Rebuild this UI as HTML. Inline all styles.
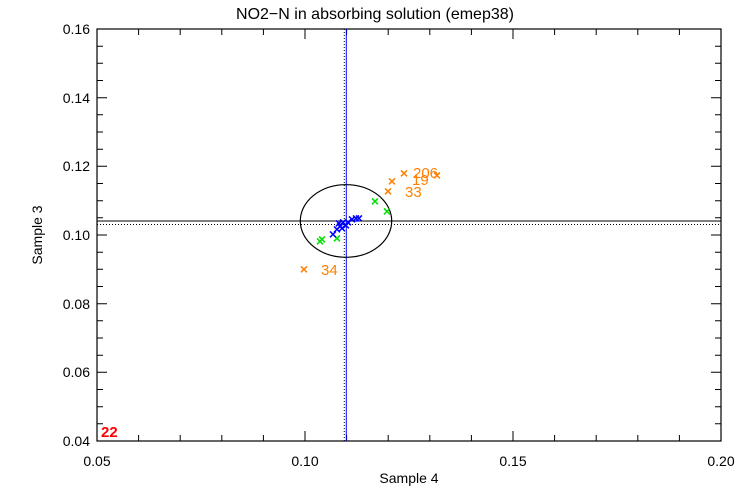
<!DOCTYPE html>
<html><head><style>body{margin:0;background:#fff}svg{display:block}</style></head><body>
<svg width="750" height="500" xmlns="http://www.w3.org/2000/svg" font-family="Liberation Sans, sans-serif">
<rect width="750" height="500" fill="#fff"/>
<text x="375" y="19" font-size="16" text-anchor="middle">NO2−N in absorbing solution (emep38)</text>
<rect x="97" y="29" width="624" height="412" fill="none" stroke="#000" stroke-width="1.2"/>
<g stroke="#000" stroke-width="1">
<path d="M138.6,441v-6M180.2,441v-6M221.8,441v-6M263.4,441v-6M305,441v-10M346.6,441v-6M388.2,441v-6M429.8,441v-6M471.4,441v-6M513,441v-10M554.6,441v-6M596.2,441v-6M637.8,441v-6M679.4,441v-6
M138.6,29v6M180.2,29v6M221.8,29v6M263.4,29v6M305,29v10M346.6,29v6M388.2,29v6M429.8,29v6M471.4,29v6M513,29v10M554.6,29v6M596.2,29v6M637.8,29v6M679.4,29v6"/>
<path d="M97,46.2h6M97,63.3h6M97,80.5h6M97,97.7h10M97,114.8h6M97,132h6M97,149.2h6M97,166.3h10M97,183.5h6M97,200.7h6M97,217.8h6M97,235h10M97,252.2h6M97,269.3h6M97,286.5h6M97,303.7h10M97,320.8h6M97,338h6M97,355.2h6M97,372.3h10M97,389.5h6M97,406.7h6M97,423.8h6
M721,46.2h-6M721,63.3h-6M721,80.5h-6M721,97.7h-10M721,114.8h-6M721,132h-6M721,149.2h-6M721,166.3h-10M721,183.5h-6M721,200.7h-6M721,217.8h-6M721,235h-10M721,252.2h-6M721,269.3h-6M721,286.5h-6M721,303.7h-10M721,320.8h-6M721,338h-6M721,355.2h-6M721,372.3h-10M721,389.5h-6M721,406.7h-6M721,423.8h-6"/>
</g>
<g font-size="14" text-anchor="end">
<text x="90" y="34">0.16</text><text x="90" y="103">0.14</text><text x="90" y="171">0.12</text><text x="90" y="240">0.10</text><text x="90" y="309">0.08</text><text x="90" y="377">0.06</text><text x="90" y="446">0.04</text>
</g>
<g font-size="14" text-anchor="middle">
<text x="97" y="466">0.05</text><text x="305" y="466">0.10</text><text x="513" y="466">0.15</text><text x="721" y="466">0.20</text>
</g>
<text x="409" y="483" font-size="14" text-anchor="middle">Sample 4</text>
<text transform="translate(42,235) rotate(-90)" font-size="14" text-anchor="middle">Sample 3</text>
<line x1="97" y1="221" x2="721" y2="221" stroke="#000" stroke-width="1"/>
<line x1="97" y1="224.5" x2="721" y2="224.5" stroke="#000" stroke-width="1" stroke-dasharray="1,2"/>
<line x1="344.3" y1="29" x2="344.3" y2="441" stroke="#000" stroke-width="1" stroke-dasharray="1,2"/>
<line x1="346.3" y1="29" x2="346.3" y2="441" stroke="#0000ff" stroke-width="1"/>
<ellipse cx="346" cy="221" rx="45.7" ry="36.3" fill="none" stroke="#000" stroke-width="1.2"/>
<g font-size="14" font-weight="bold" text-anchor="middle" dominant-baseline="central">
<g fill="#ff7f00"><text x="304" y="269">×</text><text x="392" y="181">×</text><text x="388" y="191">×</text><text x="404" y="173">×</text><text x="437" y="175">×</text></g>
<g fill="#00e000"><text x="375" y="201">×</text><text x="387" y="211">×</text><text x="322" y="239">×</text><text x="320" y="241">×</text><text x="337" y="238">×</text></g>
<g fill="#0000ff"><text x="348" y="222">×</text><text x="352" y="219">×</text><text x="356" y="218">×</text><text x="359" y="218">×</text><text x="340" y="226">×</text><text x="337" y="229">×</text><text x="333" y="234">×</text><text x="343" y="222">×</text><text x="346" y="225">×</text><text x="339" y="223">×</text><text x="342" y="228">×</text></g>
</g>
<g font-size="15" fill="#ff7f00">
<text x="321" y="275">34</text><text x="405" y="197">33</text><text x="412" y="185">19</text><text x="413" y="178">206</text>
</g>
<text x="101" y="437" font-size="15" font-weight="bold" fill="#ff0000">22</text>
</svg>
</body></html>
